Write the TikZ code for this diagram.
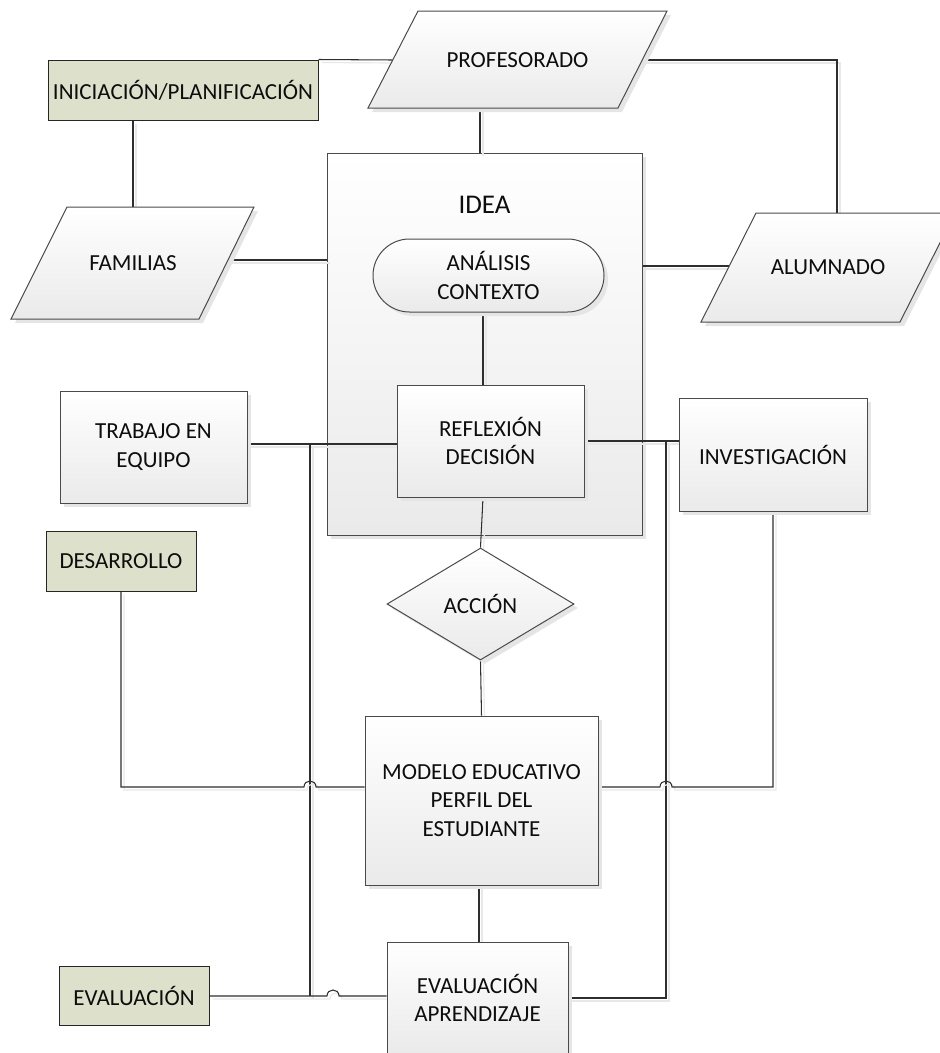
\documentclass[tikz,border=0pt]{standalone}
\usepackage{fontspec}
\setmainfont{Carlito}
\usetikzlibrary{shapes.geometric,shadows}
\pgfdeclarelayer{idealayer}
\pgfdeclarelayer{connlayer}
\pgfsetlayers{idealayer,connlayer,main}
\definecolor{edgec}{HTML}{4A4A4A}
\definecolor{sage}{HTML}{DDE1CB}
\definecolor{linec}{HTML}{2E2E2E}
\definecolor{txt}{HTML}{0D0D0D}
\definecolor{shadec}{HTML}{EAEAEA}
\tikzset{
  base/.style={draw=edgec, line width=1pt, text=txt, font=\fontsize{23}{28.5}\selectfont, align=center, inner sep=0pt},
  box/.style={base, rectangle, top color=white, bottom color=shadec,
    drop shadow={shadow xshift=4pt, shadow yshift=-4pt, fill=black!10, opacity=1}},
  para/.style={draw=edgec, line width=1pt, top color=white, bottom color=shadec,
    drop shadow={shadow xshift=4pt, shadow yshift=-4pt, fill=black!10, opacity=1}},
  phase/.style={base, rectangle, fill=sage, draw=black!85},
  lbl/.style={text=txt, font=\fontsize{23}{28.5}\selectfont, align=center, inner sep=0pt},
  conn/.style={draw=linec, line width=1.05pt,
    preaction={draw=black!9, line width=1.2pt, transform canvas={shift={(3pt,-3pt)}}}}
}
\begin{document}
\begin{tikzpicture}[x=1pt,y=-1pt]
\useasboundingbox (0,0) rectangle (940,1053);

% parallelograms
\path[para] (368,108) -- (418,11) -- (667,11) -- (618,108) -- cycle;
\node[lbl] (prof) at (517.5,60) {PROFESORADO};
\path[para] (11,319) -- (67,207) -- (254,207) -- (199,319) -- cycle;
\node[lbl] (fam) at (133,263) {FAMILIAS};
\path[para] (701,322) -- (756,213) -- (955,213) -- (900,322) -- cycle;
\node[lbl] (alum) at (828,267) {ALUMNADO};

\coordinate (profL) at (392.7,60);
\coordinate (profR) at (642.2,60);
\coordinate (profB) at (480,108);
\coordinate (famT) at (133,207);
\coordinate (famR) at (228,260);
\coordinate (alumT) at (837,213);
\coordinate (alumL) at (729,266);

% phase boxes
\node[phase, minimum width=270pt, minimum height=60pt] (ini) at (183,90) {INICIACIÓN/PLANIFICACIÓN};
\node[phase, minimum width=150pt, minimum height=60pt] (des) at (121,561) {DESARROLLO};
\node[phase, minimum width=150pt, minimum height=59pt] (eval) at (134,995.5) {EVALUACIÓN};

% IDEA container
\begin{pgfonlayer}{idealayer}
\node[box, minimum width=315pt, minimum height=382pt] (idea) at (484.5,344) {};
\end{pgfonlayer}
\node[lbl, font=\fontsize{27}{30}\selectfont] (idealbl) at (484.5,205) {IDEA};
\node[box, rounded corners=36.5pt, minimum width=231pt, minimum height=73pt] (ana) at (488.5,275.5) {ANÁLISIS\\CONTEXTO};
\node[box, minimum width=187pt, minimum height=112pt] (refl) at (490.5,441) {REFLEXIÓN\\DECISIÓN};

\node[box, minimum width=187pt, minimum height=112pt] (trab) at (153.5,447) {TRABAJO EN\\EQUIPO};
\node[box, minimum width=188pt, minimum height=113pt] (inv) at (773,454.5) {INVESTIGACIÓN};
\node[box, diamond, minimum width=187pt, minimum height=112pt] (acc) at (480.5,604) {ACCIÓN};
\node[box, minimum width=233pt, minimum height=169pt] (mod) at (481.5,800.5) {MODELO EDUCATIVO\\PERFIL DEL\\ESTUDIANTE};
\node[box, minimum width=181pt, minimum height=112pt] (evap) at (477.5,998) {EVALUACIÓN\\APRENDIZAJE};

\coordinate (xa) at (483,0);
\coordinate (xb) at (479,0);
\coordinate (j1) at (310,444);
\coordinate (j2) at (310,996);
\coordinate (j3) at (666,441);
\coordinate (j4) at (666,998);
\coordinate (hm) at (0,787);

\begin{pgfonlayer}{connlayer}
\draw[conn] (ini.north east) -- (profL);
\draw[conn] (ini.south -| famT) -- (famT);
\draw[conn] (profB) -- (profB |- idea.north);
\draw[conn] (profR) -| (alumT);
\draw[conn] (famR) -- (famR -| idea.west);
\draw[conn] (idea.east |- alumL) -- (alumL);
\draw[conn] (ana.south -| xa) -- (refl.north -| xa);
\draw[conn] (trab.east |- j1) -- (refl.west |- j1);
\draw[conn] (j1) -- (j2);
\draw[conn] (refl.east |- j3) -- (inv.west |- j3);
\draw[conn] (j3) -- (j4) -- (j4 -| evap.east);
\draw[conn] (refl.south -| xa) -- (acc.north);
\draw[conn] (acc.south) -- (mod.north);
\draw[conn] (mod.south -| xb) -- (evap.north -| xb);
\draw[conn] (eval.east |- j2) -- (327,996) .. controls (327,988) and (339,988) .. (339,996) -- (evap.west |- j2);
\draw[conn] (des.south) -- (des.south |- hm) -- (304,787) .. controls (304,779) and (316,779) .. (316,787) -- (mod.west |- hm);
\draw[conn] (mod.east |- hm) -- (660,787) .. controls (660,779) and (672,779) .. (672,787) -- (inv.south |- hm) -- (inv.south);
\end{pgfonlayer}
\end{tikzpicture}
\end{document}
